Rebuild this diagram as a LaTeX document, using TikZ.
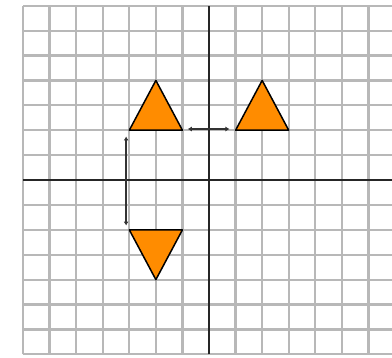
\documentclass[tikz,border=0pt]{standalone}
\usetikzlibrary{arrows.meta}
\definecolor{tri}{HTML}{FF8C00}
\definecolor{gridc}{HTML}{B8B8B8}
\tikzset{
  gridline/.style={draw=gridc, line width=2.2pt},
  axisline/.style={draw=black!85, line width=2pt},
  tribox/.style={fill=tri, draw=black, line width=1.5pt, line join=round},
  move/.style={draw=black!80, line width=1.8pt, {Latex[length=4pt,width=5pt]}-{Latex[length=4pt,width=5pt]}}
}
\begin{document}
\begin{tikzpicture}[x=26.57pt, y=24.9pt]
\useasboundingbox[fill=white] (-7.866,-7.11) rectangle (6.887,7.23);
% grid
\foreach \i in {-7,...,6} \draw[gridline] (\i,-7) -- (\i,7);
\foreach \j in {-7,...,7} \draw[gridline] (-7,\j) -- (6.887,\j);
% axes
\draw[axisline] (0,-7) -- (0,7);
\draw[axisline] (-7,0) -- (6.887,0);
% triangles
\draw[tribox] (-3,2) -- (-1,2) -- (-2,4) -- cycle;
\draw[tribox] (1,2) -- (3,2) -- (2,4) -- cycle;
\draw[tribox] (-3,-2) -- (-1,-2) -- (-2,-4) -- cycle;
% arrows
\coordinate (hL) at (-0.80,2.05);
\coordinate (hR) at (0.77,2.05);
\coordinate (vT) at (-3.12,1.75);
\coordinate (vB) at (-3.12,-1.83);
\draw[move] (hL) -- (hR);
\draw[move] (vT) -- (vB);
\end{tikzpicture}
\end{document}
